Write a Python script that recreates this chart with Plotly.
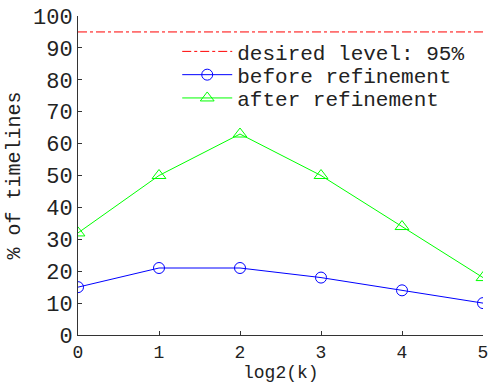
import plotly.graph_objects as go

x_vals = [0, 1, 2, 3, 4, 5]
before = [15, 21, 21, 18, 14, 10]
after = [32, 50, 63, 50, 34, 18]
desired = 95
x_title = "log2(k)"
y_title = "% of timelines"

FONT = "Liberation Mono, Courier New, monospace"
TXT = "#222222"

fig = go.Figure()
fig.add_trace(go.Scatter(x=[x_vals[0], x_vals[-1]], y=[desired, desired], mode="lines",
                         line=dict(color="#ff0000", width=1, dash="dashdot"),
                         name="desired level: 95%", legend="legend"))
fig.add_trace(go.Scatter(x=x_vals, y=before, mode="lines+markers",
                         line=dict(color="#0000ff", width=1),
                         marker=dict(symbol="circle-open", size=11, color="#0000ff", line=dict(width=1)),
                         name="before refinement", legend="legend2"))
fig.add_trace(go.Scatter(x=x_vals, y=after, mode="lines+markers",
                         line=dict(color="#00ff00", width=1),
                         marker=dict(symbol="triangle-up-open", size=12, color="#00ff00", line=dict(width=1)),
                         name="after refinement", legend="legend3"))

def leg(y):
    return dict(x=0.245, y=y, xanchor="left", yanchor="middle", bgcolor="rgba(0,0,0,0)",
                font=dict(family=FONT, size=21, color=TXT), itemwidth=50)

fig.update_layout(
    width=492, height=383,
    margin=dict(l=78, r=9, t=16, b=48),
    paper_bgcolor="white", plot_bgcolor="white",
    font=dict(family=FONT, size=22, color=TXT),
    showlegend=True,
    legend=leg(0.888),
    legend2=leg(0.815),
    legend3=leg(0.742),
    xaxis=dict(range=[0, 5], tickvals=x_vals, showgrid=False, zeroline=False,
               showline=True, linecolor="#333333", linewidth=1, automargin=False,
               ticks="inside", ticklen=4, tickcolor="#333333",
               tickfont=dict(size=18)),
    yaxis=dict(range=[0, 100], tickvals=list(range(0, 101, 10)), showgrid=False, zeroline=False,
               showline=True, linecolor="#333333", linewidth=1, automargin=False,
               ticks="inside", ticklen=4, tickcolor="#333333",
               title=dict(text=y_title, standoff=6, font=dict(size=20)),
               tickfont=dict(size=22)),
    annotations=[dict(text=x_title, xref="paper", yref="paper", x=0.5, y=0, yshift=-50,
                      xanchor="center", yanchor="bottom", showarrow=False,
                      font=dict(family=FONT, size=18, color=TXT))],
)
fig.write_html("out.html")
